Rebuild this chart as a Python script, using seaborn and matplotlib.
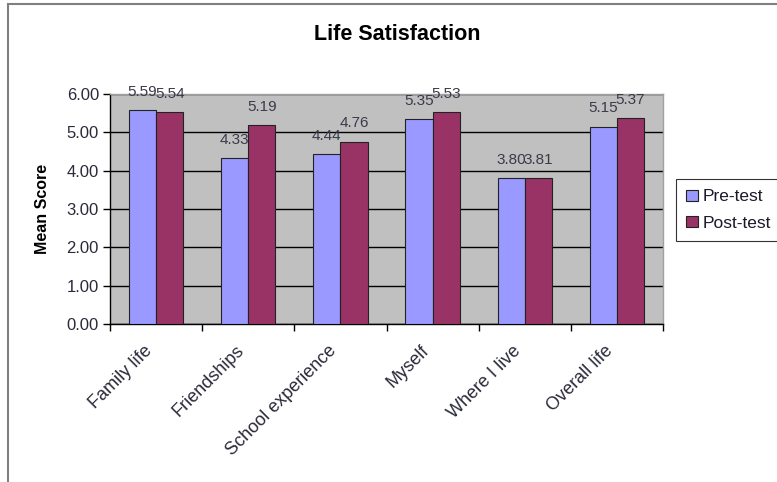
import matplotlib
matplotlib.use("Agg")
import matplotlib.pyplot as plt
import matplotlib.transforms as mtransforms
from matplotlib.patches import Rectangle
import seaborn as sns
import pandas as pd

categories = ["Family life", "Friendships", "School experience", "Myself", "Where I live", "Overall life"]
pre_test = [5.59, 4.33, 4.44, 5.35, 3.80, 5.15]
post_test = [5.54, 5.19, 4.76, 5.53, 3.81, 5.37]
series_names = ["Pre-test", "Post-test"]
y_ticks = [0, 1, 2, 3, 4, 5, 6]

df = pd.DataFrame({
    "Category": categories * 2,
    "Score": pre_test + post_test,
    "Series": [series_names[0]] * len(categories) + [series_names[1]] * len(categories),
})

sns.set_theme(style="white")
plt.rcParams["font.family"] = ["Liberation Sans", "DejaVu Sans"]

W, H = 777, 482
fig = plt.figure(figsize=(W / 100, H / 100), dpi=100)
fig.patch.set_facecolor("white")
ax = fig.add_axes([110 / W, 1 - 324 / H, (663 - 110) / W, (324 - 94) / H])

palette = {"Pre-test": "#9999FF", "Post-test": "#993366"}
sns.barplot(data=df, x="Category", y="Score", hue="Series", palette=palette,
            order=categories, hue_order=series_names, width=0.59, saturation=1,
            edgecolor="#222222", linewidth=0.8, ax=ax, zorder=3)

ax.set_facecolor("#C0C0C0")
ax.set_ylim(0, 6)
ax.set_xlim(-0.5, len(categories) - 0.5)
ax.set_yticks(y_ticks)
ax.set_yticklabels([f"{v:.2f}" for v in y_ticks], fontsize=12, color="#2a2a3a")
ax.yaxis.grid(True, color="black", linewidth=1.0, zorder=0)
ax.set_axisbelow(True)
ax.tick_params(axis="y", which="major", length=5, width=1, color="black", pad=3, left=True)

# category labels at group centers, tick marks at group boundaries
ax.set_xticks(range(len(categories)))
ax.set_xticklabels(categories, rotation=45, ha="right", rotation_mode="anchor",
                   fontsize=13, color="#2a2a3a")
ax.tick_params(axis="x", which="major", length=0, pad=13)
shift = mtransforms.ScaledTranslation(-9 / 72, 0, fig.dpi_scale_trans)
for lbl in ax.get_xticklabels():
    lbl.set_transform(lbl.get_transform() + shift)
ax.set_xticks([i - 0.5 for i in range(len(categories) + 1)], minor=True)
ax.tick_params(axis="x", which="minor", length=5, width=1, color="black", bottom=True)

for side in ["left", "bottom"]:
    ax.spines[side].set_color("black")
    ax.spines[side].set_linewidth(1.0)
for side in ["top", "right"]:
    ax.spines[side].set_color("#A0A0A0")
    ax.spines[side].set_linewidth(1.0)

# value labels above each bar; the pre-test ones lean left so pairs stay apart
for container, dx in zip(ax.containers, [-6.5, 0.5]):
    texts = ax.bar_label(container, fmt="%.2f", padding=8, fontsize=11, color="#3a3a4a")
    for t in texts:
        t.set_transform(t.get_transform() + mtransforms.ScaledTranslation(dx / 72, 0, fig.dpi_scale_trans))

ax.set_xlabel("")
ax.set_ylabel("Mean Score", fontsize=11.5, fontweight="bold", color="black", labelpad=12)

fig.text(397 / W, 1 - 35 / H, "Life Satisfaction", ha="center", va="center",
         fontsize=15.5, fontweight="bold", color="black")

handles, labels = ax.get_legend_handles_labels()
if ax.legend_:
    ax.legend_.remove()
leg = fig.legend(handles, labels, loc="upper left", bbox_to_anchor=(676 / W, 1 - 179 / H),
                 frameon=True, fancybox=False, edgecolor="black", fontsize=12.5,
                 handlelength=0.65, handleheight=0.65, handletextpad=0.3,
                 borderpad=0.6, labelspacing=0.65, borderaxespad=0)
leg.get_frame().set_linewidth(0.8)
for txt in leg.get_texts():
    txt.set_color("#1a1a2a")

# outer chart frame
fig.patches.append(Rectangle((8 / W, -0.05), 1.2, 1 - 4 / H + 0.05,
                             transform=fig.transFigure, fill=False,
                             edgecolor="#808080", linewidth=1.5))

fig.savefig("out.png", dpi=100)
